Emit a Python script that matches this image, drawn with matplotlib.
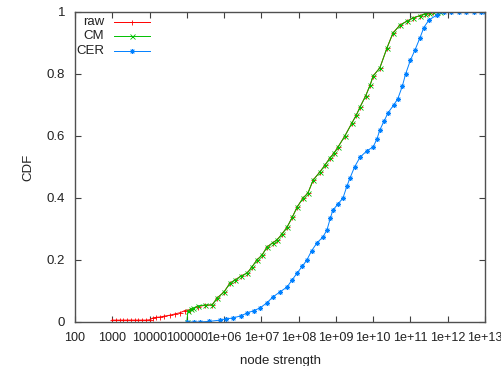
import matplotlib
matplotlib.use('Agg')
import matplotlib.pyplot as plt
import numpy as np

plt.rcParams['font.family'] = ['Liberation Sans', 'DejaVu Sans']

# node strength given as log10 exponents
raw_logx = [3.0, 3.1, 3.2, 3.3, 3.4, 3.5, 3.6, 3.7, 3.8, 3.9, 4.0, 4.09, 4.18, 4.28, 4.4, 4.55,
            4.68, 4.82, 4.95, 5.09, 5.3, 5.5, 5.68, 5.81, 6.0, 6.16, 6.29, 6.45, 6.62, 6.75,
            6.88, 7.02, 7.15, 7.3, 7.42, 7.55, 7.69, 7.83, 7.96, 8.12, 8.25, 8.39, 8.57, 8.7,
            8.84, 8.95, 9.06, 9.24, 9.43, 9.55, 9.65, 9.8, 9.92, 10.0, 10.18, 10.37, 10.53,
            10.72, 10.9, 11.07, 11.25, 11.39, 11.5, 11.61]
raw_y = [0.006, 0.006, 0.006, 0.006, 0.006, 0.006, 0.006, 0.006, 0.006, 0.006, 0.007, 0.013,
         0.015, 0.016, 0.019, 0.022, 0.026, 0.03, 0.037, 0.04, 0.05, 0.054, 0.055, 0.077,
         0.097, 0.126, 0.135, 0.148, 0.158, 0.178, 0.2, 0.216, 0.242, 0.255, 0.265, 0.283,
         0.306, 0.338, 0.371, 0.4, 0.416, 0.458, 0.484, 0.505, 0.529, 0.545, 0.565, 0.6,
         0.642, 0.668, 0.694, 0.73, 0.765, 0.794, 0.82, 0.884, 0.932, 0.958, 0.97, 0.981,
         0.988, 0.994, 0.998, 1.0]

cm_logx = [5.0, 5.03, 5.1, 5.17, 5.3, 5.5, 5.68, 5.81, 6.0, 6.16, 6.29, 6.45, 6.62, 6.75,
           6.88, 7.02, 7.15, 7.3, 7.42, 7.55, 7.69, 7.83, 7.96, 8.12, 8.25, 8.39, 8.57, 8.7,
           8.84, 8.95, 9.06, 9.24, 9.43, 9.55, 9.65, 9.8, 9.92, 10.0, 10.18, 10.37, 10.53,
           10.72, 10.9, 11.07, 11.25, 11.39, 11.5, 11.61, 11.7, 11.79]
cm_y = [0.0, 0.035, 0.042, 0.045, 0.052, 0.055, 0.055, 0.077, 0.097, 0.126, 0.135, 0.148,
        0.158, 0.178, 0.2, 0.216, 0.242, 0.255, 0.265, 0.283, 0.306, 0.338, 0.371, 0.4,
        0.416, 0.458, 0.484, 0.505, 0.529, 0.545, 0.565, 0.6, 0.642, 0.668, 0.694, 0.73,
        0.765, 0.794, 0.82, 0.884, 0.932, 0.958, 0.97, 0.981, 0.988, 0.994, 0.998, 1.0,
        1.0, 1.0]

cer_logx = [5.0, 5.2, 5.35, 5.6, 5.89, 6.05, 6.24, 6.45, 6.62, 6.8, 6.96, 7.15, 7.31, 7.5,
            7.69, 7.82, 7.96, 8.1, 8.22, 8.35, 8.49, 8.65, 8.76, 8.85, 8.92, 9.05, 9.19, 9.3,
            9.38, 9.5, 9.65, 9.83, 10.0, 10.1, 10.18, 10.3, 10.4, 10.55, 10.66, 10.78, 10.87,
            11.0, 11.12, 11.25, 11.36, 11.5, 11.71, 11.9, 12.1, 12.3, 12.5, 12.7, 12.9, 13.0]
cer_y = [0.0, 0.0, 0.0, 0.002, 0.006, 0.01, 0.013, 0.02, 0.029, 0.037, 0.045, 0.062, 0.081,
         0.097, 0.113, 0.135, 0.158, 0.18, 0.2, 0.23, 0.255, 0.274, 0.297, 0.335, 0.361,
         0.38, 0.4, 0.44, 0.465, 0.5, 0.532, 0.552, 0.565, 0.59, 0.62, 0.65, 0.675, 0.7,
         0.72, 0.76, 0.8, 0.845, 0.877, 0.915, 0.95, 0.975, 0.99, 1.0, 1.0, 1.0, 1.0, 1.0,
         1.0, 1.0]

x_ticks = [1e2, 1e3, 1e4, 1e5, 1e6, 1e7, 1e8, 1e9, 1e10, 1e11, 1e12, 1e13]
x_tick_labels = ['100', '1000', '10000', '100000', '1e+06', '1e+07', '1e+08', '1e+09',
                 '1e+10', '1e+11', '1e+12', '1e+13']
y_ticks = [0, 0.2, 0.4, 0.6, 0.8, 1]
y_tick_labels = ['0', '0.2', '0.4', '0.6', '0.8', '1']

series = [
    ('raw', raw_logx, raw_y, '#ff0000', '+'),
    ('CM', cm_logx, cm_y, '#00c000', 'x'),
    ('CER', cer_logx, cer_y, '#0080ff', (8, 2, 0)),
]

fig = plt.figure(figsize=(5.02, 3.66), dpi=100)
ax = fig.add_axes([75 / 502, 1 - 322 / 366, 410 / 502, 310 / 366])

for name, lx, y, col, mk in series:
    ax.plot(10 ** np.array(lx), y, color=col, lw=0.7, marker=mk, ms=3.6, mew=0.6)

ax.set_xscale('log')
ax.set_xlim(1e2, 1e13)
ax.set_ylim(0, 1)
ax.set_xticks(x_ticks)
ax.set_xticklabels(x_tick_labels)
ax.xaxis.set_minor_locator(matplotlib.ticker.NullLocator())
ax.set_yticks(y_ticks)
ax.set_yticklabels(y_tick_labels)
ax.tick_params(direction='in', length=4, width=0.8, top=True, right=True,
               labelsize=9.5, colors='#404040', labelcolor='#222222', pad=7)
ax.tick_params(axis='x', labelsize=9.1)
for sp in ax.spines.values():
    sp.set_color('#505050')
    sp.set_linewidth(1)

ax.set_xlabel('node strength', fontsize=9.5, color='#222222', labelpad=8)
ax.set_ylabel('CDF', fontsize=9.5, color='#222222', labelpad=9)

# legend drawn gnuplot-style: right-aligned text, then the sample
rows = [0.968, 0.921, 0.874]
for (name, lx, y, col, mk), ry in zip(series, rows):
    ax.text(0.071, ry, name, transform=ax.transAxes, ha='right', va='center',
            fontsize=9.5, color='#222222')
    ax.plot([0.095, 0.183], [ry, ry], transform=ax.transAxes, color=col, lw=0.7)
    ax.plot([0.139], [ry], transform=ax.transAxes, color=col, marker=mk, ms=3.6, mew=0.6)

fig.savefig('out.png', dpi=100)
